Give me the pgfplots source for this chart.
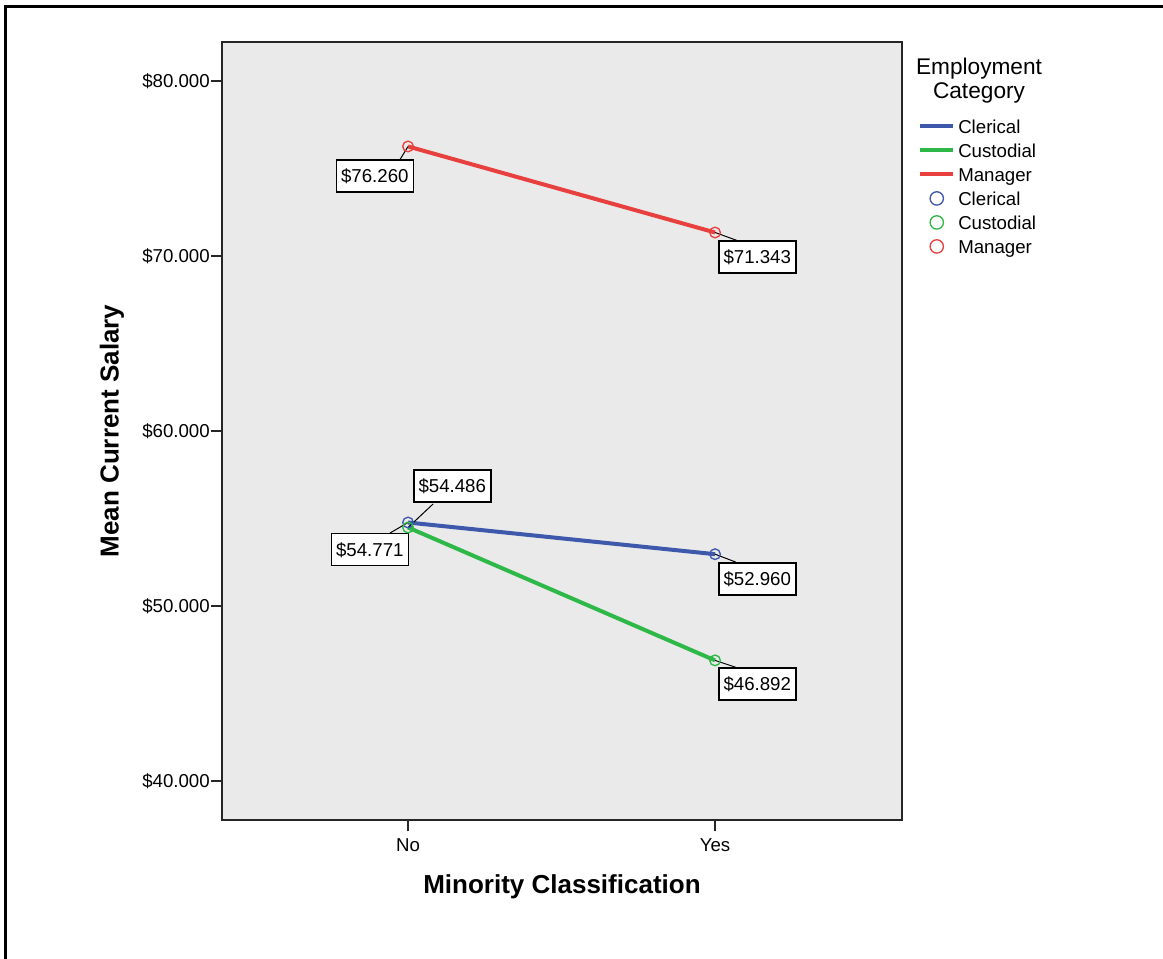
\documentclass[border=0pt]{standalone}
\usepackage{fontspec}
\setmainfont{Liberation Sans}
\usepackage{pgfplots}
\pgfplotsset{compat=1.18}
\definecolor{cler}{HTML}{3E58AC}
\definecolor{cust}{HTML}{2EB848}
\definecolor{mgr}{HTML}{E8403F}
\definecolor{bg}{HTML}{EAEAEA}
\newcommand{\fs}{\fontsize{14}{16.8}\selectfont}
\tikzset{lbl/.style={draw=black, fill=white, line width=1.1pt, font=\fs, minimum width=57.75pt, minimum height=24pt, inner sep=0pt},
  lead/.style={black, line width=0.75pt}}
\pgfplotsset{
  lineleg/.style={legend image code/.code={\draw[##1] (0pt,1.6pt) -- (24.75pt,1.6pt);}},
  markleg/.style={legend image code/.code={\draw[##1, mark size=5pt] plot coordinates {(12.4pt,1.6pt)};}}
}
\begin{document}
\begin{tikzpicture}
\path[use as bounding box] (0,0) rectangle (872.25pt,719.25pt);
\draw[line width=2.25pt] (4.125pt,0) -- (4.125pt,714.4pt) -- (872.25pt,714.4pt);
\node[font=\fontsize{17}{18}\selectfont, align=center] at (734.25pt,658.9pt) {Employment\\Category};
\begin{axis}[
  at={(166.5pt,104.25pt)}, anchor=south west, scale only axis,
  width=510pt, height=583.5pt,
  xmin=-0.606, xmax=1.609, ymin=37771, ymax=82229,
  scaled y ticks=false,
  axis background/.style={fill=bg},
  axis line style={line width=1.2pt, black!85},
  xtick={0,1}, xticklabels={No,Yes},
  ytick={40000,50000,60000,70000,80000},
  yticklabels={\$40.000,\$50.000,\$60.000,\$70.000,\$80.000},
  tick align=outside, tick pos=left,
  major tick length=8.5pt, tick style={line width=1.2pt, black!85},
  ticklabel style={font=\fs},
  xticklabel style={inner sep=5.25pt}, yticklabel style={inner sep=0.5pt},
  xlabel={Minority Classification}, ylabel={Mean Current Salary},
  label style={font=\fontsize{19.5}{22}\selectfont\bfseries},
  xlabel style={at={(axis description cs:0.5,-0.086)}, anchor=center},
  ylabel style={at={(axis description cs:-0.162,0.5)}, anchor=center},
  legend cell align=left,
  legend style={at={(axis description cs:1.0235,0.9045)}, anchor=north west, draw=none, fill=none,
    font=\fs, inner sep=0pt, row sep=0pt,
    nodes={inner sep=0pt, text height=13pt, text depth=5pt},
    /tikz/every odd column/.append style={column sep=2.25pt}},
]
\addplot[cler, line width=3pt, lineleg] coordinates {(0,54771) (1,52960)};
\addplot[cust, line width=3pt, lineleg] coordinates {(0,54486) (1,46892)};
\addplot[mgr, line width=3pt, lineleg] coordinates {(0,76260) (1,71343)};
\addplot[cler, only marks, mark=o, mark size=4pt, line width=1pt, markleg] coordinates {(0,54771) (1,52960)};
\addplot[cust, only marks, mark=o, mark size=4pt, line width=1pt, markleg] coordinates {(0,54486) (1,46892)};
\addplot[mgr, only marks, mark=o, mark size=4pt, line width=1pt, markleg] coordinates {(0,76260) (1,71343)};
\legend{Clerical,Custodial,Manager,Clerical,Custodial,Manager}
\draw[lead] (axis cs:0,76260) -- ++(-6pt,-9.75pt);
\node[lbl, anchor=north east, xshift=4.5pt, yshift=-9.75pt] at (axis cs:0,76260) {\$76.260};
\draw[lead] (axis cs:1,71343) -- ++(16.5pt,-6pt);
\node[lbl, anchor=north west, xshift=2.25pt, yshift=-6pt] at (axis cs:1,71343) {\$71.343};
\draw[lead] (axis cs:1,52960) -- ++(15.75pt,-6pt);
\node[lbl, anchor=north west, xshift=2.25pt, yshift=-6pt] at (axis cs:1,52960) {\$52.960};
\draw[lead] (axis cs:1,46892) -- ++(15.75pt,-5.25pt);
\node[lbl, anchor=north west, xshift=2.25pt, yshift=-5.25pt] at (axis cs:1,46892) {\$46.892};
\draw[lead] (axis cs:0,54486) -- ++(18.75pt,17.6pt);
\node[lbl, anchor=south west, xshift=3.75pt, yshift=18.4pt] at (axis cs:0,54486) {\$54.486};
\draw[lead] (axis cs:0,54771) -- ++(-13.5pt,-7.9pt);
\node[lbl, anchor=north east, xshift=0.75pt, yshift=-7.9pt] at (axis cs:0,54771) {\$54.771};
\end{axis}
\end{tikzpicture}
\end{document}
